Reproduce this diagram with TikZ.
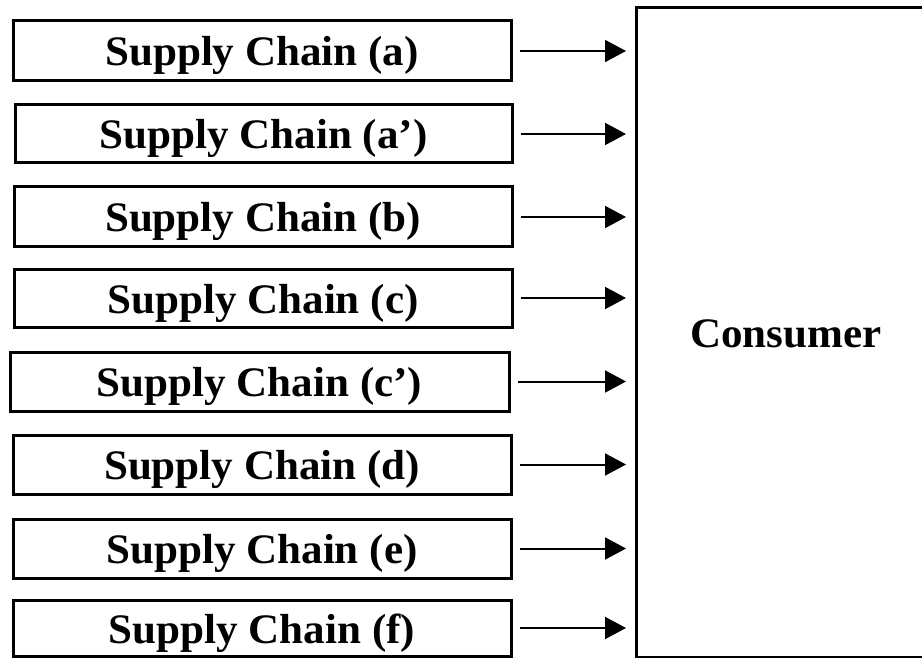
\documentclass[tikz,border=0pt]{standalone}
\usepackage{fontspec}
\setmainfont[FakeStretch=1.025]{Liberation Serif}
\usetikzlibrary{arrows.meta}
\begin{document}
\begin{tikzpicture}[x=1pt,y=-1pt,
  label text/.style={font=\fontsize{42}{46}\selectfont\bfseries,
    text height=36pt, text depth=6pt},
  chainbox/.style={draw=black, line width=3pt, inner sep=0pt, outer sep=0pt,
    minimum height=58pt, label text},
  sink/.style={draw=black, line width=3pt, inner sep=0pt, outer sep=0pt,
    label text},
  feed/.style={line width=2pt, -{Triangle[length=21pt,width=22pt]},
    shorten <=9pt, shorten >=10pt}]
  \useasboundingbox (0,0) rectangle (922,658);
  \fill[white] (0,0) rectangle (922,658);
  \clip (0,0) rectangle (922,658);

  % consumer block on the right, running past the right edge
  \node[sink, minimum width=300pt, minimum height=649pt] (cons) at (786,332.5) {Consumer};

  % supply chain blocks
  \node[chainbox, minimum width=498pt, minimum height=60pt] (sa)  at (262,51)    {Supply Chain (a)};
  \node[chainbox, minimum width=497pt] (sa2) at (263.5,134) {Supply Chain (a’)};
  \node[chainbox, minimum width=498pt, minimum height=60pt] (sb)  at (263,217)   {Supply Chain (b)};
  \node[chainbox, minimum width=498pt] (sc)  at (263,298)   {Supply Chain (c)};
  \node[chainbox, minimum width=499pt, minimum height=59pt] (sc2) at (259.5,381.5) {Supply Chain (c’)};
  \node[chainbox, minimum width=498pt, minimum height=59pt] (sd)  at (262,464.5) {Supply Chain (d)};
  \node[chainbox, minimum width=498pt, minimum height=59pt] (se)  at (262,548.5) {Supply Chain (e)};
  \node[chainbox, minimum width=498pt, minimum height=56pt] (sf)  at (262,628)   {Supply Chain (f)};

  % feeds into the consumer
  \foreach \n in {sa,sa2,sb,sc,sc2,sd,se,sf}
    \draw[feed] (\n.east) -- (\n.east -| cons.west);
\end{tikzpicture}
\end{document}
